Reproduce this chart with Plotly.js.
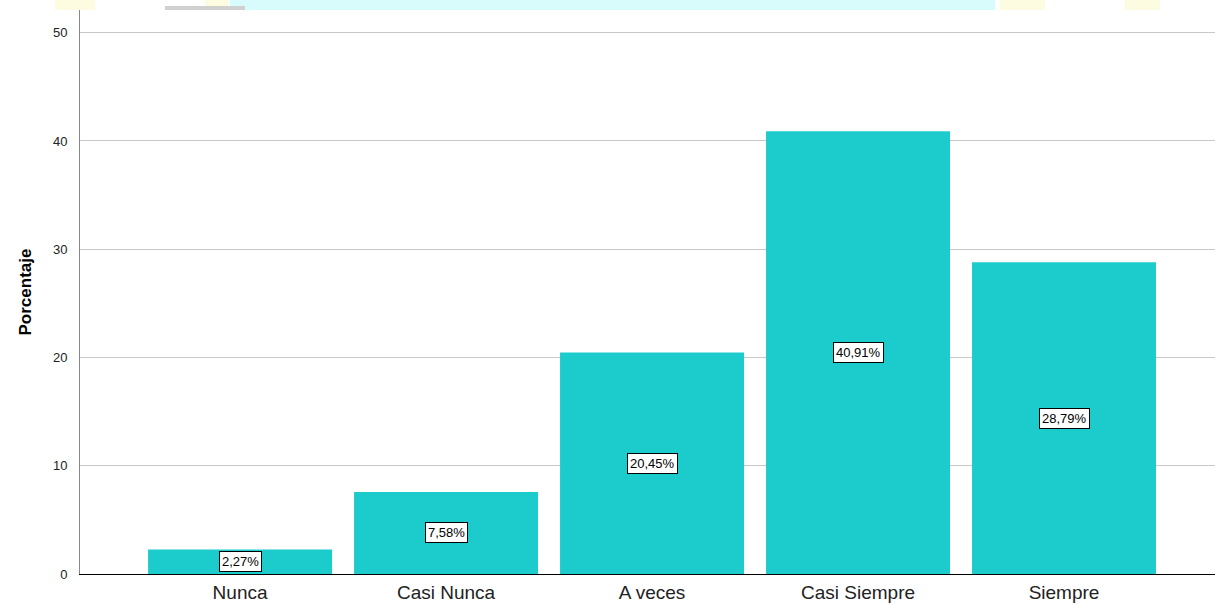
<!DOCTYPE html>
<html><head><meta charset="utf-8">
<script src="https://cdn.plot.ly/plotly-3.0.1.min.js"></script>
<style>html,body{margin:0;padding:0;background:#fff}#chart{width:1215px;height:606px}</style>
</head><body><div id="chart"></div>
<script>
const categories = ["Nunca", "Casi Nunca", "A veces", "Casi Siempre", "Siempre"];
const percentages = [2.27, 7.58, 20.45, 40.91, 28.79];
const labels = ["2,27%", "7,58%", "20,45%", "40,91%", "28,79%"];
const yTicks = [0, 10, 20, 30, 40, 50];

const annotations = categories.map((c, i) => ({
  x: i, y: percentages[i] / 2, xref: 'x', yref: 'y',
  text: labels[i], showarrow: false,
  font: {family: 'Liberation Sans, Arial, sans-serif', size: 13, color: '#000'},
  bgcolor: '#ffffff', bordercolor: '#000', borderwidth: 1, borderpad: 2
}));

const shapes = [
  {type:'rect', xref:'paper', yref:'paper', x0:(230-80)/1135, x1:(995-80)/1135, y0:1.0, y1:1.0+11/564, fillcolor:'#d8fbfb', line:{width:0}, layer:'below'},
  {type:'rect', xref:'paper', yref:'paper', x0:(55-80)/1135, x1:(95-80)/1135, y0:1.0, y1:1.0+11/564, fillcolor:'#fdfbe0', line:{width:0}, layer:'below'},
  {type:'rect', xref:'paper', yref:'paper', x0:(205-80)/1135, x1:(228-80)/1135, y0:1.0, y1:1.0+11/564, fillcolor:'#fdfbe0', line:{width:0}, layer:'below'},
  {type:'rect', xref:'paper', yref:'paper', x0:(1000-80)/1135, x1:(1045-80)/1135, y0:1.0, y1:1.0+11/564, fillcolor:'#fdfbe0', line:{width:0}, layer:'below'},
  {type:'rect', xref:'paper', yref:'paper', x0:(1125-80)/1135, x1:(1160-80)/1135, y0:1.0, y1:1.0+11/564, fillcolor:'#fdfbe0', line:{width:0}, layer:'below'},
  {type:'rect', xref:'paper', yref:'paper', x0:(165-80)/1135, x1:(245-80)/1135, y0:1.0, y1:1.0+4/564, fillcolor:'#d0d0d0', line:{width:0}, layer:'below'}
];

Plotly.newPlot('chart', [{
  type: 'bar', x: categories.map((c,i)=>i), y: percentages,
  marker: {color: '#1ccbcb', line: {width: 0}},
  hoverinfo: 'skip'
}], {
  width: 1215, height: 606,
  margin: {l: 80, r: 0, t: 10, b: 32},
  paper_bgcolor: '#ffffff', plot_bgcolor: '#ffffff',
  bargap: 0.107,
  showlegend: false,
  xaxis: {
    range: [-0.777, 4.733],
    tickvals: [0,1,2,3,4], ticktext: categories,
    showgrid: false, zeroline: false,
    showline: true, linecolor: '#000', linewidth: 1,
    ticks: '', ticklabelstandoff: 1,
    tickfont: {family: 'Liberation Sans, Arial, sans-serif', size: 19, color: '#222'}
  },
  yaxis: {
    range: [0, 52.1],
    tickvals: yTicks,
    showgrid: true, gridcolor: '#c8c8c8', gridwidth: 1,
    zeroline: false,
    showline: true, linecolor: '#888', linewidth: 1,
    ticks: '', ticklabelstandoff: 9,
    tickfont: {family: 'Liberation Sans, Arial, sans-serif', size: 13, color: '#222'},
    title: {text: '<b>Porcentaje</b>', standoff: 16, font: {family: 'Liberation Sans, Arial, sans-serif', size: 17, color: '#000'}}
  },
  annotations: annotations,
  shapes: shapes
}, {displayModeBar: false, staticPlot: true});
</script></body></html>
